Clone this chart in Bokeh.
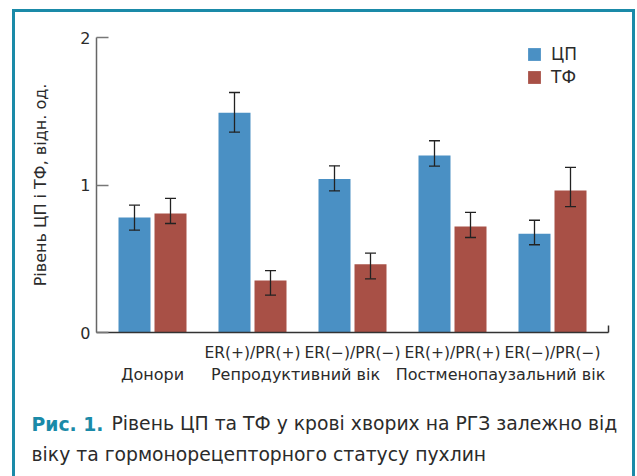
from bokeh.plotting import figure
from bokeh.models import (ColumnDataSource, Range1d, FixedTicker, Whisker, TeeHead,
                          Label, Legend, LegendItem, LinearAxis)
from bokeh.transform import dodge
from bokeh.embed import file_html
from bokeh.resources import INLINE

# ---- data ----
subgroups = ["", "ER(+)/PR(+)", "ER(−)/PR(−)", "ER(+)/PR(+)", "ER(−)/PR(−)"]
groups = ["Донори", "Репродуктивний вік", "Постменопаузальний вік"]
series = ["ЦП", "ТФ"]
cp_values = [0.78, 1.49, 1.04, 1.20, 0.67]
cp_upper = [0.863, 1.627, 1.13, 1.30, 0.761]
cp_lower = [0.694, 1.358, 0.96, 1.128, 0.595]
tf_values = [0.807, 0.353, 0.463, 0.719, 0.963]
tf_upper = [0.91, 0.42, 0.538, 0.814, 1.119]
tf_lower = [0.739, 0.253, 0.364, 0.644, 0.854]
y_ticks = [0, 1, 2]
ylabel = "Рівень ЦП і ТФ, відн. од."
caption_bold = "Рис. 1."
caption_line1 = "Рівень ЦП та ТФ у крові хворих на РГЗ залежно від"
caption_line2 = "віку та гормонорецепторного статусу пухлин"

BLUE = "#4a90c4"
RED = "#a85046"
TEAL = "#1a8aa8"
TXT = "#2b2b2b"
CHART_FONT = "DejaVu Sans"
CAP_FONT = "DejaVu Sans"

idx = list(range(len(cp_values)))
group_x = [0, 1.43, 3.48]
src = ColumnDataSource(dict(x=idx, cp=cp_values, cpu=cp_upper, cpl=cp_lower,
                            tf=tf_values, tfu=tf_upper, tfl=tf_lower))

p = figure(width=637, height=476, output_backend="svg", toolbar_location=None,
           x_range=Range1d(-0.56, 4.56), y_range=Range1d(0, 2),
           min_border_left=96, min_border_right=29, min_border_top=37, min_border_bottom=144)
p.outline_line_color = None
p.grid.visible = False
p.background_fill_color = "white"
p.border_fill_alpha = 0
# teal frame drawn by CSS around the plot element
p.styles = {"box-shadow": ("inset 12px 9px 0 0 #ffffff, inset -2px 0 0 0 #ffffff, "
                           f"inset 15px 12px 0 0 {TEAL}, inset -5px 0 0 0 {TEAL}")}

r_cp = p.vbar(x=dodge("x", -0.18), top="cp", width=0.32, source=src,
              fill_color=BLUE, line_color=None)
r_tf = p.vbar(x=dodge("x", 0.18), top="tf", width=0.32, source=src,
              fill_color=RED, line_color=None)

for base, up, lo in [(dodge("x", -0.18), "cpu", "cpl"), (dodge("x", 0.18), "tfu", "tfl")]:
    w = Whisker(source=src, base=base, upper=up, lower=lo, level="annotation",
                line_color="#222222", line_width=1.3,
                upper_head=TeeHead(size=11, line_color="#222222", line_width=1.3),
                lower_head=TeeHead(size=11, line_color="#222222", line_width=1.3))
    p.add_layout(w)

# y axis
ya = p.yaxis[0]
ya.ticker = FixedTicker(ticks=y_ticks)
ya.axis_line_color = "#666666"
ya.axis_line_width = 1.5
ya.major_tick_in = 12
ya.major_tick_out = 0
ya.major_tick_line_color = "#777777"
ya.major_tick_line_width = 1.5
ya.minor_tick_line_color = None
ya.major_label_text_font = CHART_FONT
ya.major_label_text_font_size = "16px"
ya.major_label_text_color = TXT
ya.major_label_standoff = 6
ya.axis_label = ylabel
ya.axis_label_text_font = CHART_FONT
ya.axis_label_text_font_size = "16px"
ya.axis_label_text_font_style = "normal"
ya.axis_label_text_color = TXT
ya.axis_label_standoff = 27

# x axis, first row (receptor status)
xa = p.xaxis[0]
xa.ticker = FixedTicker(ticks=idx, minor_ticks=[4.56])
xa.major_label_overrides = {i: s for i, s in zip(idx, subgroups)}
xa.axis_line_color = "#333333"
xa.axis_line_width = 1.5
xa.major_tick_in = 0
xa.major_tick_out = 0
xa.minor_tick_in = 7
xa.minor_tick_out = 0
xa.minor_tick_line_color = "#333333"
xa.minor_tick_line_width = 1.5
xa.major_label_text_font = CHART_FONT
xa.major_label_text_font_size = "15.5px"
xa.major_label_text_color = TXT
xa.major_label_standoff = 11

# x axis, second row (groups)
xa2 = LinearAxis(ticker=FixedTicker(ticks=group_x),
                 major_label_overrides={gx: g for gx, g in zip(group_x, groups)},
                 axis_line_color=None, major_tick_line_color=None, minor_tick_line_color=None,
                 major_label_text_font=CHART_FONT, major_label_text_font_size="16px",
                 major_label_text_color=TXT, major_label_standoff=-6)
p.add_layout(xa2, "below")

# legend
leg = Legend(items=[LegendItem(label=series[0], renderers=[r_cp]),
                    LegendItem(label=series[1], renderers=[r_tf])],
             location=(430, 245), orientation="vertical",
             glyph_width=16, glyph_height=16, label_height=16, spacing=3,
             label_standoff=9, padding=0, margin=0,
             border_line_color=None, background_fill_alpha=0,
             label_text_font=CHART_FONT, label_text_font_size="17px",
             label_text_color=TXT)
p.add_layout(leg)

# caption (labels in the bottom panel, offsets relative to their strips)
p.add_layout(Label(x=-65, y=-17, x_units="screen", y_units="screen", text=caption_bold,
                   text_baseline="alphabetic", text_font=CAP_FONT, text_font_style="bold",
                   text_font_size="18.8px", text_color=TEAL), "below")
p.add_layout(Label(x=15, y=5, x_units="screen", y_units="screen", text=caption_line1,
                   text_baseline="alphabetic", text_font=CAP_FONT,
                   text_font_size="18.8px", text_color=TXT), "below")
p.add_layout(Label(x=-65, y=-5, x_units="screen", y_units="screen", text=caption_line2,
                   text_baseline="alphabetic", text_font=CAP_FONT,
                   text_font_size="18.8px", text_color=TXT), "below")

open("out.html", "w").write(file_html(p, INLINE))
